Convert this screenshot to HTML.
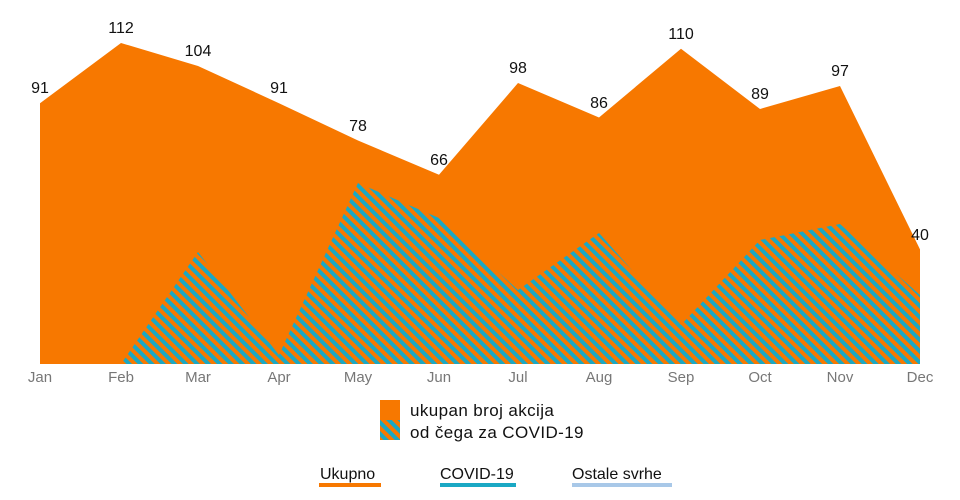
<!DOCTYPE html>
<html><head><meta charset="utf-8"><style>body{margin:0;background:#fff}svg{display:block;font-family:"Liberation Sans",sans-serif}</style></head><body>
<svg width="960" height="500" viewBox="0 0 960 500">
<defs><pattern id="h" width="8" height="8" patternUnits="userSpaceOnUse" patternTransform="rotate(-45)"><rect width="8" height="8" fill="#f77800"/><rect width="4" height="8" fill="#1aa8c4"/></pattern></defs>
<polygon fill="#f77800" points="40,364 40,103.2 121,43 198,66 279,103.2 358,140.5 439,174.8 518,83 599,117.5 681,48.7 760,109 840,86 920,249.4 920,364"/>
<polygon fill="url(#h)" points="121,364 198,252 279,355 358,183 439,218 518,290 599,233 681,325 760,240 840,224 920,295 920,364"/>
<g font-size="16" text-anchor="middle" fill="#111">
<text x="40" y="93">91</text><text x="121" y="33">112</text><text x="198" y="56">104</text><text x="279" y="93">91</text><text x="358" y="131">78</text><text x="439" y="165">66</text><text x="518" y="73">98</text><text x="599" y="108">86</text><text x="681" y="39">110</text><text x="760" y="99">89</text><text x="840" y="76">97</text><text x="920" y="240">40</text>
</g>
<g font-size="15" text-anchor="middle" fill="#777">
<text x="40" y="382">Jan</text><text x="121" y="382">Feb</text><text x="198" y="382">Mar</text><text x="279" y="382">Apr</text><text x="358" y="382">May</text><text x="439" y="382">Jun</text><text x="518" y="382">Jul</text><text x="599" y="382">Aug</text><text x="681" y="382">Sep</text><text x="760" y="382">Oct</text><text x="840" y="382">Nov</text><text x="920" y="382">Dec</text>
</g>
<rect x="380" y="400" width="20" height="20" fill="#f77800"/>
<rect x="380" y="420" width="20" height="20" fill="url(#h)"/>
<text x="410" y="416" font-size="17" letter-spacing="0.4" fill="#111">ukupan broj akcija</text>
<text x="410" y="438" font-size="17" letter-spacing="0.4" fill="#111">od čega za COVID-19</text>
<g font-size="16" fill="#111">
<text x="320" y="479">Ukupno</text><text x="440" y="479">COVID-19</text><text x="572" y="479">Ostale svrhe</text>
</g>
<rect x="319" y="483" width="62" height="4" fill="#f77800"/>
<rect x="440" y="483" width="76" height="4" fill="#1aa8c4"/>
<rect x="572" y="483" width="100" height="4" fill="#a8c8e8"/>
</svg>
</body></html>
